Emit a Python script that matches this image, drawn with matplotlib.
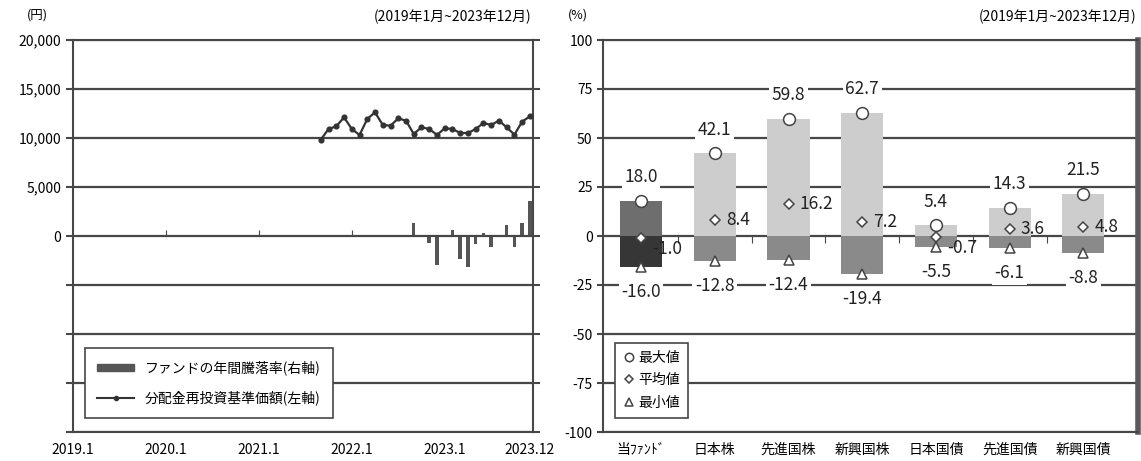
import matplotlib
matplotlib.use("Agg")
import matplotlib.pyplot as plt
from matplotlib.lines import Line2D
from matplotlib.patches import Patch
import numpy as np
import pandas as pd

plt.rcParams['font.family'] = ['Noto Sans CJK JP', 'DejaVu Sans']
plt.rcParams['axes.unicode_minus'] = False

# ---- left chart data: NAV (yen) and annual return of the fund (%) ----
nav_start = "2021-09"
nav_values = [9830, 10920, 11190, 12110, 10920, 10310, 11940, 12620, 11330, 11260,
              12000, 11770, 10410, 11090, 10920, 10310, 10990, 10920, 10510, 10510,
              10920, 11530, 11330, 11770, 11090, 10340, 11670, 12210]
ret_start = "2022-09"
ret_values = [6.8, 0.5, -3.4, -15.0, 0.3, 2.9, -11.7, -16.0,
              -4.3, 1.7, -5.6, -0.2, 5.6, -5.4, 6.8, 18.0]
x_tick_labels = ["2019.1", "2020.1", "2021.1", "2022.1", "2023.1", "2023.12"]

# ---- right chart data ----
categories = ["当ﾌｧﾝﾄﾞ", "日本株", "先進国株", "新興国株", "日本国債", "先進国債", "新興国債"]
max_vals = [18.0, 42.1, 59.8, 62.7, 5.4, 14.3, 21.5]
avg_vals = [-1.0, 8.4, 16.2, 7.2, -0.7, 3.6, 4.8]
min_vals = [-16.0, -12.8, -12.4, -19.4, -5.5, -6.1, -8.8]


def month_index(dates):
    return (dates.year - 2019) * 12 + dates.month - 1


GRID = "#474747"

fig = plt.figure(figsize=(11.41, 4.61), dpi=100)

# ================= left chart =================
ax1 = fig.add_axes([73 / 1141, 29 / 461, 460 / 1141, 392 / 461])
ax2 = ax1.twinx()
ax1.set_zorder(ax2.get_zorder() + 1)
ax1.patch.set_visible(False)

nav_dates = pd.date_range(nav_start, periods=len(nav_values), freq="MS")
ret_dates = pd.date_range(ret_start, periods=len(ret_values), freq="MS")
tick_dates = pd.to_datetime([s.replace(".", "-") for s in x_tick_labels])

ax2.bar(month_index(ret_dates), ret_values, width=0.45, color="#555555", zorder=2)
ax2.set_ylim(-100, 100)
ax2.tick_params(right=False, labelright=False)

ax1.plot(month_index(nav_dates), nav_values, color="#333333", lw=1.6,
         marker="o", ms=3.4, zorder=3)
ax1.set_xlim(0, 59.4)
ax1.set_ylim(-20000, 20000)
yt = np.arange(-20000, 20001, 5000)
ax1.set_yticks(yt)
ax1.set_yticklabels([f"{v:,}" if v >= 0 else "" for v in yt], fontsize=10)
ax1.yaxis.set_ticks_position("both")
ax1.tick_params(axis="y", direction="out", length=5, color=GRID, width=1.5)
ax1.set_xticks(month_index(tick_dates))
ax1.set_xticklabels(x_tick_labels, fontsize=10)
ax1.tick_params(axis="x", length=0, pad=8)
ax1.grid(axis="y", color=GRID, lw=1.6)
for s in ax1.spines.values():
    s.set_color(GRID)
    s.set_linewidth(1.5)
for s in ax2.spines.values():
    s.set_visible(False)

zero1 = ax1.secondary_xaxis(0.5)
zero1.set_xticks(month_index(tick_dates[1:4]))
zero1.tick_params(length=4, color=GRID, labeltop=False, labelbottom=False)
zero1.spines["top"].set_visible(False)

leg_handles = [Patch(color="#555555", label="ファンドの年間騰落率(右軸)"),
               Line2D([], [], color="#333333", lw=1.5, marker="o", ms=3,
                      label="分配金再投資基準価額(左軸)")]
leg1 = ax1.legend(handles=leg_handles, loc="lower left", bbox_to_anchor=(0.026, 0.036),
                  borderaxespad=0, fontsize=10, fancybox=False, framealpha=1,
                  edgecolor=GRID, handlelength=2.6, handleheight=0.35,
                  labelspacing=1.1, borderpad=0.9)
leg1.get_frame().set_linewidth(1.2)

fig.text(37 / 1141, 1 - 15 / 461, "(円)", ha="center", va="center", fontsize=9)
fig.text(531 / 1141, 1 - 17 / 461, "(2019年1月~2023年12月)", ha="right", va="center",
         fontsize=10)

# ================= right chart =================
ax3 = fig.add_axes([603 / 1141, 29 / 461, 535 / 1141, 392 / 461])
x = np.arange(len(categories))
pos_colors = ["#6e6e6e"] + ["#cdcdcd"] * (len(categories) - 1)
neg_colors = ["#363636"] + ["#8a8a8a"] * (len(categories) - 1)
ax3.bar(x, max_vals, width=0.57, color=pos_colors, zorder=2)
ax3.bar(x, min_vals, width=0.57, color=neg_colors, zorder=2)

mk = dict(ls="none", mfc="white", mec="#444444", mew=1.1)
ax3.plot(x, max_vals, marker="o", ms=8.5, zorder=4, **mk)
ax3.plot(x, avg_vals, marker="D", ms=5.5, zorder=4, **mk)
ax3.plot(x, min_vals, marker="^", ms=7.5, zorder=4, **mk)

lbl = dict(fontsize=12.5, color="#222222", zorder=5,
           bbox=dict(boxstyle="square,pad=0.15", fc="white", ec="none"))
for xi, v in zip(x, max_vals):
    ax3.annotate(f"{v:.1f}", (xi, v), xytext=(0, 17), textcoords="offset points",
                 ha="center", va="center", **lbl)
for xi, v in zip(x, min_vals):
    ax3.annotate(f"{v:.1f}", (xi, v), xytext=(0, -18), textcoords="offset points",
                 ha="center", va="center", **lbl)
for xi, v in zip(x, avg_vals):
    dy = 0 if v >= 0 else -8
    ax3.annotate(f"{v:.1f}", (xi, v), xytext=(8, dy), textcoords="offset points",
                 ha="left", va="center", fontsize=12.5, color="#222222", zorder=5)

ax3.set_xlim(-0.516, 6.74)
ax3.set_ylim(-100, 100)
ax3.set_yticks(np.arange(-100, 101, 25))
ax3.tick_params(axis="y", direction="out", length=4, color=GRID, width=1.5, labelsize=10)
ax3.set_xticks(x)
ax3.set_xticklabels(categories, fontsize=10)
ax3.tick_params(axis="x", length=0, pad=8)
ax3.grid(axis="y", color=GRID, lw=1.6, zorder=0)
ax3.set_axisbelow(True)
for s in ax3.spines.values():
    s.set_color(GRID)
    s.set_linewidth(1.5)
ax3.spines["right"].set_linewidth(4)
ax3.spines["right"].set_color("#5a5a5a")

zero3 = ax3.secondary_xaxis(0.5)
zero3.set_xticks(x[:-1] + 0.5)
zero3.tick_params(direction="in", length=5, color=GRID, labeltop=False, labelbottom=False)
zero3.spines["top"].set_visible(False)

leg_handles3 = [Line2D([], [], marker="o", ms=6, label="最大値", **mk),
                Line2D([], [], marker="D", ms=4.5, label="平均値", **mk),
                Line2D([], [], marker="^", ms=6, label="最小値", **mk)]
leg3 = ax3.legend(handles=leg_handles3, loc="lower left", bbox_to_anchor=(0.022, 0.036),
                  borderaxespad=0, fontsize=10, fancybox=False, framealpha=1,
                  edgecolor=GRID, handlelength=0.8, handletextpad=0.3,
                  labelspacing=0.6, borderpad=0.6)
leg3.get_frame().set_linewidth(1.2)

fig.text(578 / 1141, 1 - 15 / 461, "(%)", ha="center", va="center", fontsize=9)
fig.text(1136 / 1141, 1 - 17 / 461, "(2019年1月~2023年12月)", ha="right", va="center",
         fontsize=10)

fig.savefig("out.png", dpi=100, facecolor="white")
